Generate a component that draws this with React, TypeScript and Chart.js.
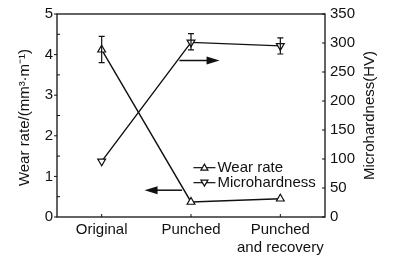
import React, { useEffect, useRef } from "react";
import { Chart, registerables } from "chart.js";

Chart.register(...registerables);

const categories: (string | string[])[] = ["Original", "Punched", ["Punched", "and recovery"]];
const wearRate = [4.12, 0.37, 0.45];
const wearErrLow = [3.8, 0.33, 0.42];
const wearErrHigh = [4.45, 0.41, 0.48];
const microhardness = [96, 301, 295];
const microErrLow = [93, 288, 281];
const microErrHigh = [99, 316, 309];
const leftTicks = [0, 1, 2, 3, 4, 5];
const rightTicks = [0, 50, 100, 150, 200, 250, 300, 350];
const seriesNames = ["Wear rate", "Microhardness"];
const leftTitle = "Wear rate/(mm³·m⁻¹)";
const rightTitle = "Microhardness(HV)";
const arrowRight = { from: 0.87, to: 1.32, value: 270 };
const arrowLeft = { from: 0.48, to: 0.9, value: 0.66 };

const FONT = "'Liberation Sans', Arial, sans-serif";
const INK = "#111";

const overlay = {
  id: "overlay",
  afterDatasetsDraw(chart: any) {
    const ctx = chart.ctx;
    const { left, right, top, bottom } = chart.chartArea;
    const xs = chart.scales.x;
    const yl = chart.scales.y;
    const yr = chart.scales.y1;
    ctx.save();
    ctx.strokeStyle = INK;
    ctx.fillStyle = INK;
    ctx.lineWidth = 1.3;
    ctx.strokeRect(left, top, right - left, bottom - top);
    ctx.lineWidth = 1;
    ctx.beginPath();
    leftTicks.forEach((v) => {
      const y = yl.getPixelForValue(v);
      ctx.moveTo(left - 3, y);
      ctx.lineTo(left, y);
      if (v < 5) {
        const ym = yl.getPixelForValue(v + 0.5);
        ctx.moveTo(left, ym);
        ctx.lineTo(left + 3, ym);
      }
    });
    rightTicks.forEach((v) => {
      const y = yr.getPixelForValue(v);
      ctx.moveTo(right - 3, y);
      ctx.lineTo(right, y);
    });
    categories.forEach((_, i) => {
      const x = xs.getPixelForValue(i);
      ctx.moveTo(x, bottom);
      ctx.lineTo(x, bottom - 3);
    });
    ctx.stroke();
    ctx.lineWidth = 1.2;
    const drawErr = (scale: any, lo: number[], hi: number[]) => {
      lo.forEach((l, i) => {
        const x = xs.getPixelForValue(i);
        const y1 = scale.getPixelForValue(l);
        const y2 = scale.getPixelForValue(hi[i]);
        if (Math.abs(y1 - y2) < 8) return;
        ctx.beginPath();
        ctx.moveTo(x, y1);
        ctx.lineTo(x, y2);
        ctx.moveTo(x - 3, y1);
        ctx.lineTo(x + 3, y1);
        ctx.moveTo(x - 3, y2);
        ctx.lineTo(x + 3, y2);
        ctx.stroke();
      });
    };
    drawErr(yl, wearErrLow, wearErrHigh);
    drawErr(yr, microErrLow, microErrHigh);
    const arrow = (x1: number, x2: number, y: number) => {
      const dir = Math.sign(x2 - x1);
      ctx.lineWidth = 1.5;
      ctx.beginPath();
      ctx.moveTo(x1, y);
      ctx.lineTo(x2 - dir * 8, y);
      ctx.stroke();
      ctx.beginPath();
      ctx.moveTo(x2, y);
      ctx.lineTo(x2 - dir * 13, y - 4);
      ctx.lineTo(x2 - dir * 13, y + 4);
      ctx.closePath();
      ctx.fill();
    };
    arrow(
      xs.getPixelForValue(arrowRight.from),
      xs.getPixelForValue(arrowRight.to),
      yr.getPixelForValue(arrowRight.value)
    );
    arrow(
      xs.getPixelForValue(arrowLeft.to),
      xs.getPixelForValue(arrowLeft.from),
      yl.getPixelForValue(arrowLeft.value)
    );
    ctx.font = `15px ${FONT}`;
    ctx.textBaseline = "middle";
    ctx.textAlign = "left";
    const lx = left + (right - left) * 0.509;
    const ly0 = top + (bottom - top) * 0.757;
    seriesNames.forEach((name, i) => {
      const ly = ly0 + i * 15;
      ctx.lineWidth = 1.2;
      ctx.strokeStyle = INK;
      ctx.beginPath();
      ctx.moveTo(lx, ly);
      ctx.lineTo(lx + 22, ly);
      ctx.stroke();
      const cx = lx + 11;
      ctx.fillStyle = "#fff";
      ctx.beginPath();
      if (i === 0) {
        ctx.moveTo(cx, ly - 3.5);
        ctx.lineTo(cx + 3.5, ly + 2.5);
        ctx.lineTo(cx - 3.5, ly + 2.5);
      } else {
        ctx.moveTo(cx, ly + 3.5);
        ctx.lineTo(cx + 3.5, ly - 2.5);
        ctx.lineTo(cx - 3.5, ly - 2.5);
      }
      ctx.closePath();
      ctx.fill();
      ctx.stroke();
      ctx.fillStyle = INK;
      ctx.fillText(name, lx + 24, ly);
    });
    const cy = (top + bottom) / 2;
    ctx.textAlign = "center";
    ctx.save();
    ctx.translate(25, cy + 2);
    ctx.rotate(-Math.PI / 2);
    ctx.fillText(leftTitle, 0, 0);
    ctx.restore();
    ctx.save();
    ctx.translate(chart.width - 25, cy);
    ctx.rotate(-Math.PI / 2);
    ctx.fillText(rightTitle, 0, 0);
    ctx.restore();
    ctx.restore();
  },
};

export default function App() {
  const ref = useRef<HTMLCanvasElement>(null);
  useEffect(() => {
    document.body.style.margin = "0";
    const tickFont = { family: FONT, size: 15 };
    const chart = new Chart(ref.current!, {
      type: "line",
      data: {
        labels: categories as any,
        datasets: [
          {
            label: seriesNames[0],
            data: wearRate,
            yAxisID: "y",
            borderColor: INK,
            borderWidth: 1.4,
            pointStyle: "triangle",
            pointRadius: 4.5,
            pointBackgroundColor: "#fff",
            pointBorderColor: INK,
            pointBorderWidth: 1.2,
            tension: 0,
          },
          {
            label: seriesNames[1],
            data: microhardness,
            yAxisID: "y1",
            borderColor: INK,
            borderWidth: 1.4,
            pointStyle: "triangle",
            pointRotation: 180,
            pointRadius: 4.5,
            pointBackgroundColor: "#fff",
            pointBorderColor: INK,
            pointBorderWidth: 1.2,
            tension: 0,
          },
        ],
      },
      options: {
        animation: false,
        responsive: false,
        layout: { padding: { top: 12, left: 0, right: 0, bottom: 0 } },
        plugins: { legend: { display: false }, tooltip: { enabled: false } },
        scales: {
          x: {
            type: "category",
            offset: true,
            grid: { display: false, drawTicks: false },
            border: { display: false },
            ticks: { color: INK, font: tickFont, padding: 4, maxRotation: 0, autoSkip: false },
            afterFit: (s: any) => {
              s.height = 48;
            },
          },
          y: {
            position: "left",
            min: 0,
            max: 5,
            grid: { display: false, drawTicks: false },
            border: { display: false },
            ticks: { stepSize: 1, color: INK, font: tickFont, padding: 4 },
            afterFit: (s: any) => {
              s.width = 57;
            },
          },
          y1: {
            position: "right",
            min: 0,
            max: 350,
            grid: { display: false, drawTicks: false },
            border: { display: false },
            ticks: { stepSize: 50, color: INK, font: tickFont, padding: 5 },
            afterFit: (s: any) => {
              s.width = 70;
            },
          },
        },
      },
      plugins: [overlay],
    });
    return () => chart.destroy();
  }, []);
  return (
    <div style={{ width: 395, height: 265, background: "#fff" }}>
      <canvas ref={ref} width={395} height={265} />
    </div>
  );
}
